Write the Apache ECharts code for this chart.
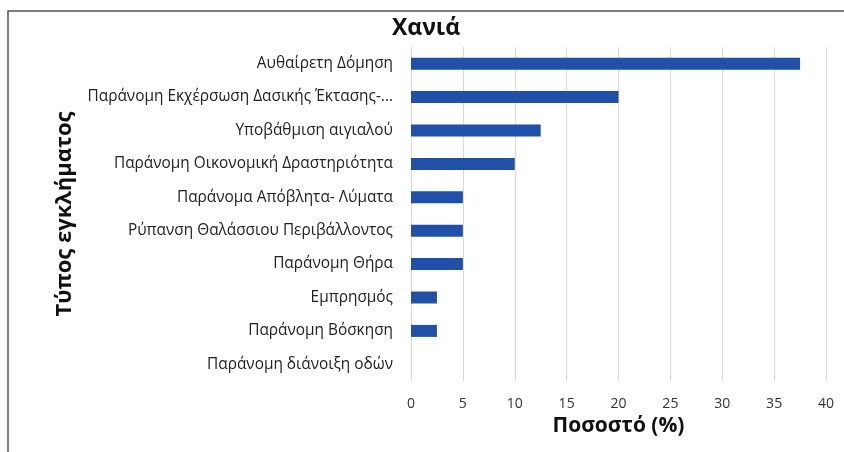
<!DOCTYPE html>
<html><head><meta charset="utf-8">
<script src="https://cdn.jsdelivr.net/npm/echarts@6/dist/echarts.min.js"></script>
<style>html,body{margin:0;padding:0;background:#fff}#c{width:844px;height:452px}</style>
</head><body><div id="c"></div>
<script>
const categories = [
  "Αυθαίρετη Δόμηση",
  "Παράνομη Εκχέρσωση Δασικής Έκτασης-...",
  "Υποβάθμιση αιγιαλού",
  "Παράνομη Οικονομική Δραστηριότητα",
  "Παράνομα Απόβλητα- Λύματα",
  "Ρύπανση Θαλάσσιου Περιβάλλοντος",
  "Παράνομη Θήρα",
  "Εμπρησμός",
  "Παράνομη Βόσκηση",
  "Παράνομη διάνοιξη οδών"
];
const values = [37.5, 20, 12.5, 10, 5, 5, 5, 2.5, 2.5, 0];
const xTicks = [0, 5, 10, 15, 20, 25, 30, 35, 40];

const chart = echarts.init(document.getElementById('c'));
chart.setOption({
  animation: false,
  title: {
    text: "Χανιά", left: 421, top: 12, textAlign: 'center',
    textStyle: {fontFamily: "Open Sans", fontWeight: 'bold', fontSize: 23, color: '#111'}
  },
  graphic: [{type: 'rect', shape: {x: 8, y: 11, width: 900, height: 500}, style: {fill: 'none', stroke: '#555', lineWidth: 1.5}}],
  grid: {left: 411, right: 18, top: 47, bottom: 71},
  xAxis: {
    type: 'value', min: xTicks[0], max: xTicks[xTicks.length - 1], interval: 5,
    name: "Ποσοστό (%)", nameLocation: 'middle', nameGap: 31,
    nameTextStyle: {fontFamily: "Open Sans", fontWeight: 'bold', fontSize: 21, color: '#111'},
    axisLine: {show: false}, axisTick: {show: false},
    axisLabel: {fontFamily: "Open Sans", fontSize: 14, color: '#333', margin: 16},
    splitLine: {lineStyle: {color: '#d9d9d9', width: 1}}
  },
  yAxis: {
    type: 'category', data: categories, inverse: true,
    name: "Τύπος εγκλήματος", nameLocation: 'middle', nameGap: 335, nameRotate: 90,
    nameTextStyle: {fontFamily: "Open Sans", fontWeight: 'bold', fontSize: 22, color: '#111'},
    axisLine: {show: true, lineStyle: {color: '#d9d9d9'}}, axisTick: {show: false},
    axisLabel: {fontFamily: "Open Sans", fontSize: 15.4, color: '#222', margin: 18}
  },
  series: [{type: 'bar', data: values, barWidth: 12, itemStyle: {color: '#2150a8'}}]
});
</script></body></html>
